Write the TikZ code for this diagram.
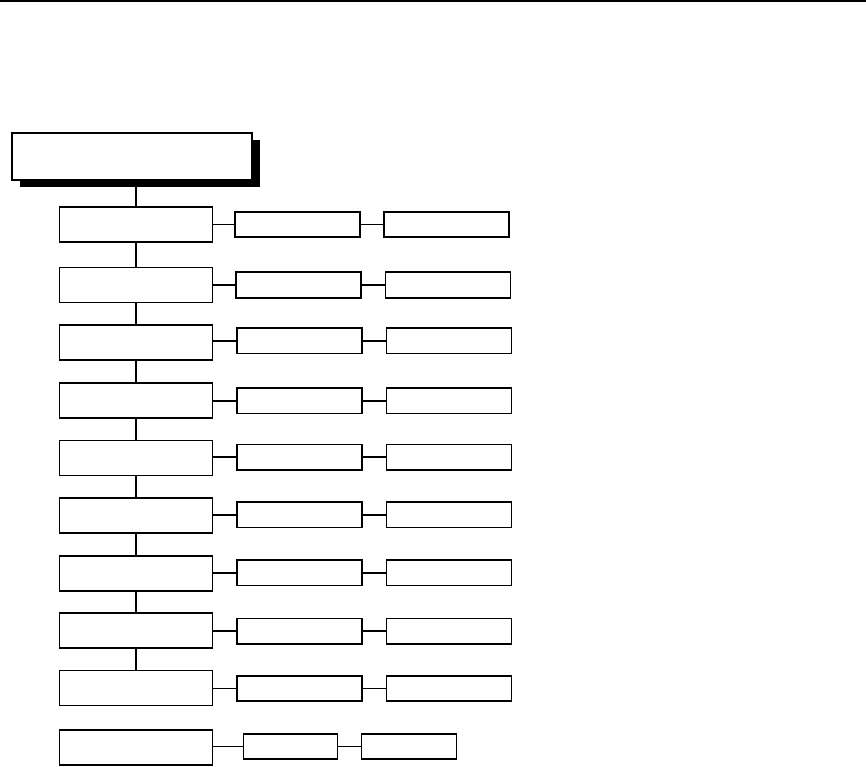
\documentclass[tikz,border=0pt]{standalone}
\usetikzlibrary{shadows}
\begin{document}
\begin{tikzpicture}[x=1pt,y=-1pt,
  lbox/.style={draw,line width=1.6pt,minimum width=153pt,minimum height=35pt,inner sep=0pt,fill=white},
  mbox/.style={draw,line width=1.6pt,minimum width=125pt,minimum height=25.5pt,inner sep=0pt,fill=white},
  titlebox/.style={draw,line width=1.6pt,minimum width=240pt,minimum height=47pt,inner sep=0pt,fill=white,
    drop shadow={shadow xshift=7.5pt,shadow yshift=-7pt,fill=black,opacity=1}},
  conn/.style={line width=1.6pt}]
\useasboundingbox (0,0) rectangle (866,766);
\draw[line width=2.2pt] (0,1) -- (866,1);
\node[titlebox] (t) at (132,156.5) {};
\foreach \i/\lc/\mc/\mx/\rx in {1/224.5/224.5/297.5/446.5, 2/284.8/285/298.5/448, 3/342.2/340.7/299.5/449,
  4/400.3/400.7/299.5/449, 5/457.8/457.2/299.5/449, 6/515.3/514.8/299.5/449, 7/573.2/572.8/299.5/449,
  8/630.3/631.2/299.5/449, 9/688/688.5/299.5/449}{
  \node[lbox] (l\i) at (135.8,\lc) {};
  \node[mbox] (m\i) at (\mx,\mc) {};
  \node[mbox] (r\i) at (\rx,\mc) {};
  \draw[conn] (m\i.west) -- (m\i.west -| l\i.east);
  \draw[conn] (m\i.east) -- (r\i.west);
}
\node[lbox] (l10) at (135.8,747.5) {};
\node[mbox,minimum width=94pt] (m10) at (290.5,746.5) {};
\node[mbox,minimum width=95pt] (r10) at (409,746.5) {};
\draw[conn] (m10.west) -- (m10.west -| l10.east);
\draw[conn] (m10.east) -- (r10.west);
\draw[conn] (l1.north) -- (l1.north |- t.south);
\foreach \a/\b in {1/2,2/3,3/4,4/5,5/6,6/7,7/8,8/9}{
  \draw[conn] (l\a.south) -- (l\b.north);
}
\end{tikzpicture}
\end{document}
